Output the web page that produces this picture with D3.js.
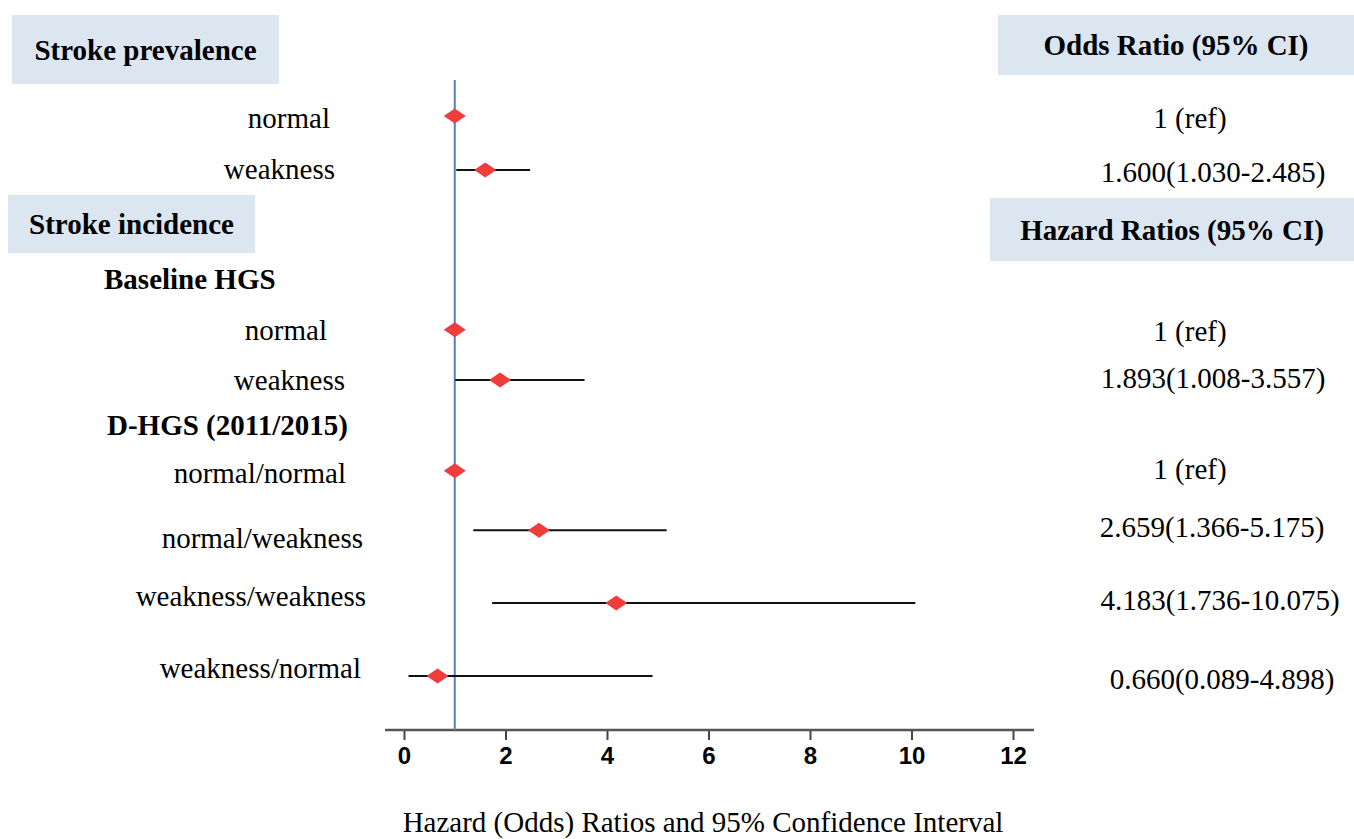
<!DOCTYPE html>
<html>
<head>
<meta charset="utf-8">
<script src="https://d3js.org/d3.v7.min.js"></script>
<style>
  body { margin: 0; background: #fff; }
  text { font-family: "Times New Roman", "Liberation Serif", serif; fill: #000; }
  .hdr { font-weight: bold; }
  g.xaxis text { font-family: Arial, "Liberation Sans", sans-serif; font-weight: bold; font-size: 24px; }
</style>
</head>
<body>
<script>
// rows of the forest plot, top to bottom
var labels = ["normal", "weakness", "normal", "weakness",
              "normal/normal", "normal/weakness", "weakness/weakness", "weakness/normal"];
var ratio  = [1, 1.600, 1, 1.893, 1, 2.659, 4.183, 0.660];
var lower  = [null, 1.030, null, 1.008, null, 1.366, 1.736, 0.089];
var upper  = [null, 2.485, null, 3.557, null, 5.175, 10.075, 4.898];
var ciText = ["1 (ref)", "1.600(1.030-2.485)", "1 (ref)", "1.893(1.008-3.557)",
              "1 (ref)", "2.659(1.366-5.175)", "4.183(1.736-10.075)", "0.660(0.089-4.898)"];
var xTicks = [0, 2, 4, 6, 8, 10, 12];

// layout (row slots in row units, label placement)
var slot     = [0, 1, 3.96, 4.89, 6.57, 7.67, 9.02, 10.37];
var labelEnd = [330, 335, 327, 345, 346, 363, 366, 361];
var labelDy  = [2, -1, 0, 0, 2, 8, -7, -8];
var textDy   = [2, 2, 1, -2, -2, -3, -3, 3];
var textMid  = [1190, 1213, 1190, 1213, 1190, 1212, 1220, 1222];

var W = 1354, H = 839, FS = 29;
var svg = d3.select("body").append("svg").attr("width", W).attr("height", H);

var x = d3.scaleLinear().domain([0, 12]).range([404, 1013]);
var y = d3.scaleLinear().domain([0, 1]).range([116, 170]);

// header boxes
var boxes = [
  {x: 12, y: 15, w: 267, h: 69, t: "Stroke prevalence"},
  {x: 8, y: 195, w: 247, h: 58, t: "Stroke incidence"},
  {x: 998, y: 15, w: 356, h: 60, t: "Odds Ratio (95% CI)"},
  {x: 990, y: 198, w: 364, h: 63, t: "Hazard Ratios (95% CI)"}
];
boxes.forEach(function(b) {
  svg.append("rect").attr("x", b.x).attr("y", b.y).attr("width", b.w).attr("height", b.h)
    .attr("fill", "#dce6f1");
  svg.append("text").attr("class", "hdr").attr("x", b.x + b.w / 2).attr("y", b.y + b.h / 2)
    .attr("dy", "0.35em").attr("text-anchor", "middle").attr("font-size", FS).text(b.t);
});

svg.append("text").attr("class", "hdr").attr("x", 104).attr("y", 279).attr("dy", "0.35em")
  .attr("font-size", FS).text("Baseline HGS");
svg.append("text").attr("class", "hdr").attr("x", 107).attr("y", 425).attr("dy", "0.35em")
  .attr("font-size", FS).text("D-HGS (2011/2015)");

// axis
var axisY = 730;
var ax = svg.append("g").attr("class", "xaxis").attr("transform", "translate(0," + axisY + ")")
  .call(d3.axisBottom(x).tickValues(xTicks).tickSize(10).tickPadding(7).tickFormat(d3.format("d")));
ax.attr("font-size", 24).attr("font-family", null);
ax.select(".domain").remove();
ax.selectAll(".tick line").attr("stroke", "#444").attr("stroke-width", 2);
ax.selectAll(".tick text").attr("fill", "#111");
ax.append("line").attr("x1", 385).attr("x2", 1034).attr("y1", 0).attr("y2", 0)
  .attr("stroke", "#555").attr("stroke-width", 2.5);

// reference line at 1
svg.append("line").attr("x1", x(1)).attr("x2", x(1)).attr("y1", 80).attr("y2", axisY)
  .attr("stroke", "#4f81bd").attr("stroke-width", 2);

var rows = labels.map(function(l, i) { return i; });

// CI lines
svg.selectAll("line.ci").data(rows.filter(function(i) { return lower[i] != null; }))
  .enter().append("line").attr("class", "ci")
  .attr("x1", function(i) { return x(lower[i]); })
  .attr("x2", function(i) { return x(upper[i]); })
  .attr("y1", function(i) { return y(slot[i]); })
  .attr("y2", function(i) { return y(slot[i]); })
  .attr("stroke", "#111").attr("stroke-width", 2);

// diamonds
svg.selectAll("path.pt").data(rows).enter().append("path").attr("class", "pt")
  .attr("d", "M-11,0L0,-7.5L11,0L0,7.5Z")
  .attr("transform", function(i) { return "translate(" + x(ratio[i]) + "," + y(slot[i]) + ")"; })
  .attr("fill", "#f03c3c");

// left labels
svg.selectAll("text.lab").data(rows).enter().append("text").attr("class", "lab")
  .attr("x", function(i) { return labelEnd[i]; })
  .attr("y", function(i) { return y(slot[i]) + labelDy[i]; })
  .attr("dy", "0.35em").attr("text-anchor", "end").attr("font-size", FS)
  .text(function(i) { return labels[i]; });

// right estimates
svg.selectAll("text.est").data(rows).enter().append("text").attr("class", "est")
  .attr("x", function(i) { return textMid[i]; })
  .attr("y", function(i) { return y(slot[i]) + textDy[i]; })
  .attr("dy", "0.35em").attr("text-anchor", "middle").attr("font-size", FS)
  .text(function(i) { return ciText[i]; });

svg.append("text").attr("x", 703).attr("y", 822).attr("dy", "0.35em").attr("text-anchor", "middle")
  .attr("font-size", FS).text("Hazard (Odds) Ratios and 95% Confidence Interval");
</script>
</body>
</html>
